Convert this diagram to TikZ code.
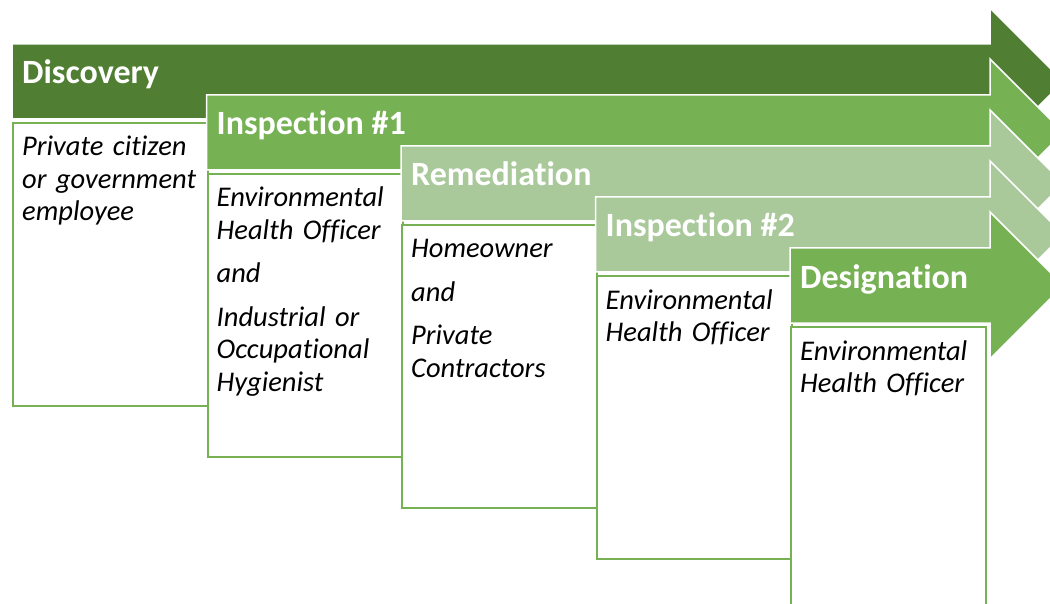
\documentclass[tikz,border=0pt]{standalone}
\usepackage{fontspec}
\setmainfont{Carlito}[Ligatures=NoCommon]
\definecolor{darkgreen}{HTML}{507E32}
\definecolor{midgreen}{HTML}{76B154}
\definecolor{lightgreen}{HTML}{A9C99B}
\tikzset{
  stagetitle/.style={anchor=base west, inner sep=0pt, text=white,
    font=\fontsize{34}{40}\selectfont\bfseries},
  stagebox/.style={draw=midgreen, line width=2.2pt, fill=white, anchor=north west,
    minimum width=195pt, minimum height=283pt, inner sep=0pt},
  boxtext/.style={anchor=base west, inner sep=0pt, text width=190pt, align=left,
    font=\fontsize{28.5}{32.5}\selectfont\itshape}
}
\begin{document}
\begin{tikzpicture}[x=1pt,y=-1pt]
  \useasboundingbox (0,0) rectangle (1050,604);
  \foreach \col [count=\i from 0] in {darkgreen,midgreen,lightgreen,lightgreen,midgreen}{
    \pgfmathsetmacro\L{12+194.5*\i}
    \pgfmathsetmacro\T{44+51*\i}
    \filldraw[fill=\col, draw=white, line width=1.5pt]
      (\L,\T) -- (990,\T) -- (990,\T-36) -- (1063.5,\T+37.5)
      -- (990,\T+111) -- (990,\T+75) -- (\L,\T+75) -- cycle;
    \node[stagebox] (box\i) at (\L,\T+78) {};
  }
  \node[stagetitle] (disc) at ([xshift=10pt,yshift=38pt]box0.north west) {Discovery};
  \node[stagetitle] (insp1) at ([xshift=10pt,yshift=38pt]box1.north west) {Inspection \#1};
  \node[stagetitle] (remed) at ([xshift=10pt,yshift=38pt]box2.north west) {Remediation};
  \node[stagetitle] (insp2) at ([xshift=10pt,yshift=38pt]box3.north west) {Inspection \#2};
  \node[stagetitle] (desig) at ([xshift=10pt,yshift=38pt]box4.north west) {Designation};
  \node[boxtext] (who0) at ([xshift=10pt,yshift=-34pt]box0.north west)
    {Private citizen\\or government\\employee};
  \node[boxtext] (who1) at ([xshift=10pt,yshift=-34pt]box1.north west)
    {Environmental\\Health Officer\\[11pt]and\\[11pt]Industrial or\\Occupational\\Hygienist};
  \node[boxtext] (who2) at ([xshift=10pt,yshift=-34pt]box2.north west)
    {Homeowner\\[11pt]and\\[11pt]Private\\Contractors};
  \node[boxtext] (who3) at ([xshift=10pt,yshift=-34pt]box3.north west)
    {Environmental\\Health Officer};
  \node[boxtext] (who4) at ([xshift=10pt,yshift=-34pt]box4.north west)
    {Environmental\\Health Officer};
\end{tikzpicture}
\end{document}
